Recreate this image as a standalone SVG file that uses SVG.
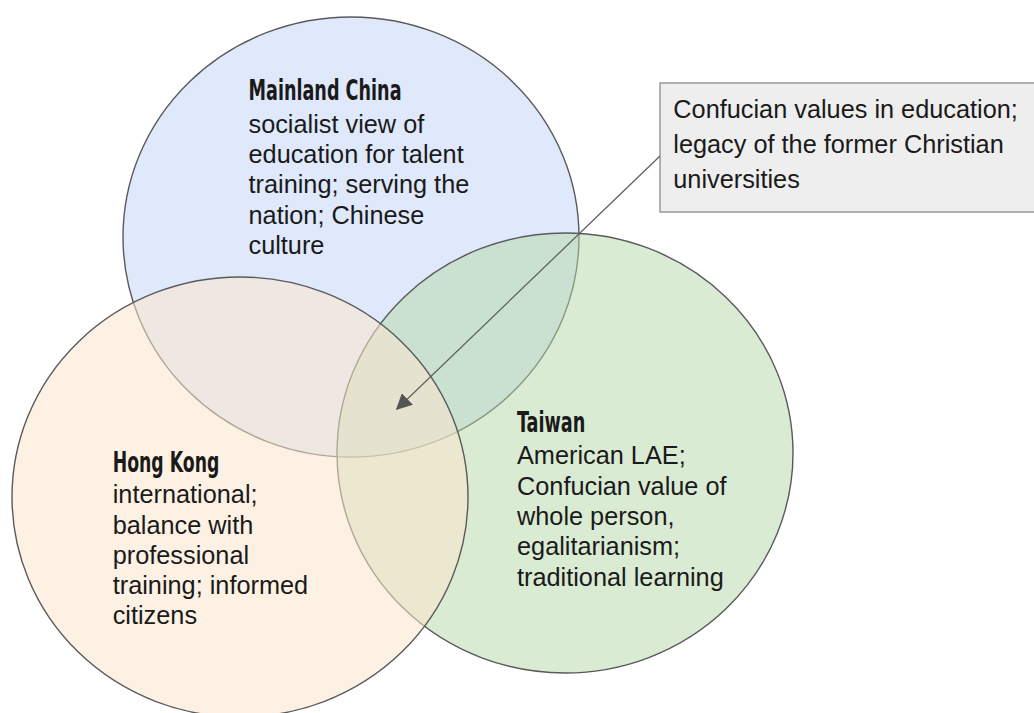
<svg xmlns="http://www.w3.org/2000/svg" width="1034" height="713" viewBox="0 0 1034 713">
  <defs>
    <marker id="arrowhead" viewBox="0 0 10 10" refX="9" refY="5" markerWidth="16" markerHeight="16" markerUnits="userSpaceOnUse" orient="auto">
      <path d="M0,0 L10,5 L0,10 z" fill="#555555"/>
    </marker>
  </defs>
  <style>
    .region { stroke: #5a5a5a; stroke-width: 1.4; }
    .title { font-family: "Liberation Sans Narrow", "DejaVu Sans Condensed", "Liberation Sans", sans-serif; font-weight: bold; font-size: 28px; fill: #1a1a1a; }
    .body { font-family: "Liberation Sans", Arial, sans-serif; font-size: 25.3px; fill: #1a1a1a; }
    .note { fill: #eeeeee; stroke: #9a9a9a; stroke-width: 1.5; }
    .connector { stroke: #616161; stroke-width: 1.3; fill: none; }
  </style>
  <rect width="1034" height="713" fill="#ffffff"/>

  <!-- Mainland China -->
  <g id="mainland-china">
    <ellipse class="region" cx="351" cy="237" rx="228" ry="220" fill="#c9daf8" fill-opacity="0.6"/>
    <text class="title" x="248.5" y="100" textLength="153" lengthAdjust="spacingAndGlyphs">Mainland China</text>
    <text class="body" x="248.5" y="133">socialist view of</text>
    <text class="body" x="248.5" y="163">education for talent</text>
    <text class="body" x="248.5" y="193">training; serving the</text>
    <text class="body" x="248.5" y="224">nation; Chinese</text>
    <text class="body" x="248.5" y="254">culture</text>
  </g>

  <!-- Taiwan -->
  <g id="taiwan">
    <ellipse class="region" cx="565" cy="453" rx="228" ry="220" fill="#b6d7a8" fill-opacity="0.5"/>
    <text class="title" x="517" y="431.7" textLength="68.3" lengthAdjust="spacingAndGlyphs">Taiwan</text>
    <text class="body" x="517" y="464.3">American LAE;</text>
    <text class="body" x="517" y="494.6">Confucian value of</text>
    <text class="body" x="517" y="524.9">whole person,</text>
    <text class="body" x="517" y="555.2">egalitarianism;</text>
    <text class="body" x="517" y="585.5">traditional learning</text>
  </g>

  <!-- Hong Kong -->
  <g id="hong-kong">
    <ellipse class="region" cx="240" cy="497" rx="228" ry="220" fill="#fce5cd" fill-opacity="0.55"/>
    <text class="title" x="112.7" y="471.7" textLength="106.7" lengthAdjust="spacingAndGlyphs">Hong Kong</text>
    <text class="body" x="112.7" y="503.3">international;</text>
    <text class="body" x="112.7" y="533.5">balance with</text>
    <text class="body" x="112.7" y="563.7">professional</text>
    <text class="body" x="112.7" y="594">training; informed</text>
    <text class="body" x="112.7" y="624.3">citizens</text>
  </g>

  <!-- Shared-values callout -->
  <g id="shared-values">
    <rect class="note" x="660" y="83" width="390" height="129"/>
    <text class="body" x="673.3" y="117.5">Confucian values in education;</text>
    <text class="body" x="673.3" y="152.5">legacy of the former Christian</text>
    <text class="body" x="673.3" y="187.5">universities</text>
  </g>

  <g id="connectors">
    <line class="connector" x1="660" y1="156" x2="397" y2="409" marker-end="url(#arrowhead)"/>
  </g>
</svg>
